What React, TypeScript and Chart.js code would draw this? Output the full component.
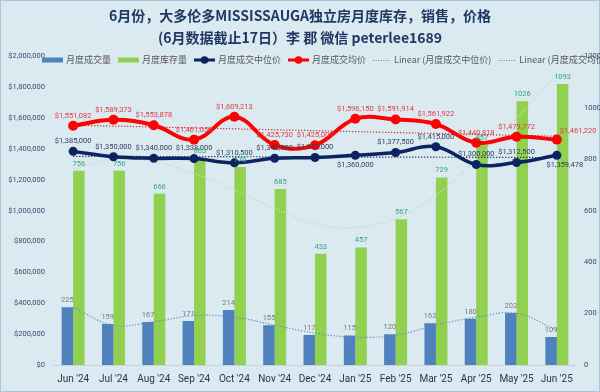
import React, { useEffect, useRef } from "react";
import { Chart, registerables } from "chart.js";

Chart.register(...registerables);

const categories = ["Jun '24", "Jul '24", "Aug '24", "Sep '24", "Oct '24", "Nov '24", "Dec '24", "Jan '25", "Feb '25", "Mar '25", "Apr '25", "May '25", "Jun '25"];
const salesVolume = [225, 159, 167, 171, 214, 155, 117, 115, 120, 162, 180, 202, 109];
const inventory = [756, 756, 666, 803, 770, 685, 433, 457, 567, 729, 857, 1026, 1093];
const medianPrice = [1385000, 1350000, 1340000, 1338000, 1310500, 1340000, 1345000, 1360000, 1377500, 1415000, 1300000, 1312500, 1359478];
const averagePrice = [1551082, 1589373, 1553878, 1461050, 1609213, 1425730, 1425000, 1596150, 1591914, 1561922, 1440818, 1479772, 1461220];
// trend lines
const medianTrendEnds = [1353000, 1345000];
const averageTrendEnds = [1555000, 1483000];
const salesTrend = [224, 155, 168, 192, 186, 155, 124, 108, 116, 155, 186, 201, 135];
const inventoryTrend = [760, 800, 790, 745, 680, 610, 550, 535, 570, 660, 800, 960, 1130];

const titleLines = ["6月份，大多伦多MISSISSAUGA独立房月度库存，销售，价格", "(6月数据截止17日）李 郡 微信 peterlee1689"];

const leftTicks = { min: 0, max: 2000000, step: 200000 };
const rightTicks = { min: 0, max: 1200, step: 200 };

const BG = "#dbe9f1";
const NAVY = "#0c2461";
const RED = "#ff0000";
const BLUE = "#4f81bd";
const GREEN = "#92d050";
const NUM_FONT = '"Roboto", "Liberation Sans", sans-serif';
const CJK_FONT = '"Noto Sans CJK SC", "Noto Sans", sans-serif';

const medianBelow = [7, 12];

const money = (v: number) => "$" + Math.round(v).toLocaleString("en-US");

const App = () => {
  const ref = useRef<HTMLCanvasElement>(null);

  useEffect(() => {
    const canvas = ref.current!;

    const bgPlugin = {
      id: "bg",
      beforeDraw(chart: any) {
        const { ctx, width, height } = chart;
        ctx.save();
        ctx.fillStyle = BG;
        ctx.fillRect(0, 0, width, height);
        ctx.strokeStyle = "#aec3d3";
        ctx.lineWidth = 1;
        ctx.strokeRect(0.5, 0.5, width - 1, height - 1);
        ctx.restore();
      },
    };

    const titlePlugin = {
      id: "titleDraw",
      afterDraw(chart: any) {
        const { ctx, width } = chart;
        ctx.save();
        ctx.fillStyle = "#1f3864";
        ctx.textAlign = "center";
        ctx.textBaseline = "middle";
        ctx.font = `bold 14px ${CJK_FONT}`;
        ctx.fillText(titleLines[0], width / 2, 16);
        ctx.fillText(titleLines[1], width / 2, 38);
        ctx.restore();
      },
    };

    const legendPlugin = {
      id: "legendDraw",
      afterDraw(chart: any) {
        const { ctx } = chart;
        const y = 60;
        let x = 42;
        ctx.save();
        ctx.font = `9px ${CJK_FONT}`;
        ctx.textBaseline = "middle";
        ctx.textAlign = "left";
        const items = [
          { kind: "rect", color: BLUE, text: "月度成交量" },
          { kind: "rect", color: GREEN, text: "月度库存量" },
          { kind: "line", color: NAVY, text: "月度成交中位价" },
          { kind: "line", color: RED, text: "月度成交均价" },
          { kind: "dot", color: "#6c7890", text: "Linear (月度成交中位价)" },
          { kind: "dot", color: "#6c7890", text: "Linear (月度成交均价)" },
        ];
        for (const it of items) {
          const sw = it.kind === "dot" ? 18 : 21;
          if (it.kind === "rect") {
            ctx.fillStyle = it.color;
            ctx.fillRect(x, y - 2.5, sw, 5);
          } else if (it.kind === "line") {
            ctx.strokeStyle = it.color;
            ctx.lineWidth = 3;
            ctx.beginPath();
            ctx.moveTo(x, y);
            ctx.lineTo(x + sw, y);
            ctx.stroke();
            ctx.fillStyle = it.color;
            ctx.beginPath();
            ctx.arc(x + sw / 2, y, 3.8, 0, Math.PI * 2);
            ctx.fill();
          } else {
            ctx.strokeStyle = it.color;
            ctx.lineWidth = 1;
            ctx.setLineDash([1, 1.6]);
            ctx.beginPath();
            ctx.moveTo(x, y + 0.5);
            ctx.lineTo(x + sw, y + 0.5);
            ctx.stroke();
            ctx.setLineDash([]);
          }
          x += sw + 3;
          ctx.fillStyle = "#595959";
          ctx.fillText(it.text, x, y);
          x += ctx.measureText(it.text).width + 7;
        }
        ctx.restore();
      },
    };

    const labelPlugin = {
      id: "valueLabels",
      afterDatasetsDraw(chart: any) {
        const { ctx } = chart;
        ctx.save();
        ctx.font = `7.5px ${NUM_FONT}`;
        ctx.textBaseline = "middle";
        chart.data.datasets.forEach((ds: any, di: number) => {
          const meta = chart.getDatasetMeta(di);
          const kind = ds.labelKind;
          if (!kind) return;
          meta.data.forEach((el: any, i: number) => {
            const v = ds.data[i];
            let tx = el.x;
            let ty = el.y;
            ctx.textAlign = "center";
            let text = "";
            if (kind === "sales") {
              ctx.fillStyle = "#7a7a7a";
              text = String(v);
              ty = el.y - 7;
            } else if (kind === "inv") {
              ctx.fillStyle = "#2fa878";
              text = String(v);
              ty = el.y - 7;
            } else if (kind === "median") {
              ctx.fillStyle = "#2e3d62";
              text = money(v);
              if (medianBelow.includes(i)) {
                ty = el.y + 10;
                if (i === 12) tx = el.x + 8;
              } else ty = el.y - 10;
            } else if (kind === "avg") {
              ctx.fillStyle = "#e23b3b";
              text = money(v);
              if (i === 12) {
                ctx.textAlign = "left";
                tx = el.x + 3;
                ty = el.y - 8;
              } else ty = el.y - 10;
            }
            ctx.fillText(text, tx, ty);
          });
        });
        ctx.restore();
      },
    };

    const chart = new Chart(canvas, {
      type: "bar",
      data: {
        labels: categories,
        datasets: [
          {
            type: "line",
            label: "月度成交均价",
            data: averagePrice,
            yAxisID: "y",
            borderColor: RED,
            backgroundColor: RED,
            borderWidth: 4,
            pointRadius: 5,
            pointBorderWidth: 0,
            tension: 0.4,
            order: 0,
            labelKind: "avg",
          } as any,
          {
            type: "line",
            label: "月度成交中位价",
            data: medianPrice,
            yAxisID: "y",
            borderColor: NAVY,
            backgroundColor: NAVY,
            borderWidth: 3.5,
            pointRadius: 4.5,
            pointBorderWidth: 0,
            tension: 0.4,
            order: 1,
            labelKind: "median",
          } as any,
          {
            type: "line",
            label: "Linear (月度成交中位价)",
            data: [
              { x: categories[0], y: medianTrendEnds[0] },
              { x: categories[categories.length - 1], y: medianTrendEnds[1] },
            ],
            yAxisID: "y",
            borderColor: NAVY,
            borderWidth: 1.2,
            borderDash: [1.2, 1.8],
            pointRadius: 0,
            order: 2,
          } as any,
          {
            type: "line",
            label: "Linear (月度成交均价)",
            data: [
              { x: categories[0], y: averageTrendEnds[0] },
              { x: categories[categories.length - 1], y: averageTrendEnds[1] },
            ],
            yAxisID: "y",
            borderColor: "#d42020",
            borderWidth: 1.2,
            borderDash: [1.2, 1.8],
            pointRadius: 0,
            order: 2,
          } as any,
          {
            type: "line",
            label: "sales trend",
            data: salesTrend,
            yAxisID: "y1",
            borderColor: "#5d8cc4",
            borderWidth: 1.2,
            borderDash: [1.2, 1.8],
            pointRadius: 0,
            tension: 0.4,
            order: 3,
          } as any,
          {
            type: "line",
            label: "inventory trend",
            data: inventoryTrend,
            yAxisID: "y1",
            borderColor: "#c2deb0",
            borderWidth: 1.4,
            borderDash: [1.2, 1.8],
            pointRadius: 0,
            tension: 0.4,
            order: 3,
          } as any,
          {
            type: "bar",
            label: "月度成交量",
            data: salesVolume,
            yAxisID: "y1",
            backgroundColor: BLUE,
            categoryPercentage: 0.57,
            barPercentage: 1,
            order: 5,
            labelKind: "sales",
          } as any,
          {
            type: "bar",
            label: "月度库存量",
            data: inventory,
            yAxisID: "y1",
            backgroundColor: GREEN,
            categoryPercentage: 0.57,
            barPercentage: 1,
            order: 5,
            labelKind: "inv",
          } as any,
        ],
      },
      options: {
        animation: false,
        responsive: false,
        devicePixelRatio: 1,
        layout: { padding: { top: 56.5, bottom: 0, left: 0, right: 0 } },
        plugins: {
          legend: { display: false },
          title: { display: false },
          tooltip: { enabled: false },
        },
        scales: {
          x: {
            grid: { display: false, drawTicks: false },
            border: { display: true, color: "#c9d3dc" },
            ticks: {
              color: "#1f3350",
              font: { size: 10, family: NUM_FONT },
              padding: 8,
              maxRotation: 0,
              autoSkip: false,
            },
            afterFit(scale: any) {
              scale.height = 27;
            },
          },
          y: {
            position: "left",
            min: leftTicks.min,
            max: leftTicks.max,
            grid: { display: false, drawTicks: false },
            border: { display: false },
            ticks: {
              stepSize: leftTicks.step,
              color: "#3b4a6b",
              font: { size: 7.5, family: NUM_FONT },
              padding: 8,
              callback: (v: any) => money(Number(v)),
            },
            afterFit(scale: any) {
              scale.width = 53;
            },
          },
          y1: {
            position: "right",
            min: rightTicks.min,
            max: rightTicks.max,
            grid: { display: false, drawTicks: false },
            border: { display: false },
            ticks: {
              stepSize: rightTicks.step,
              color: "#3b4a6b",
              font: { size: 7.5, family: NUM_FONT },
              padding: 7,
              callback: (v: any) => String(v),
            },
            afterFit(scale: any) {
              scale.width = 23;
            },
          },
        },
      } as any,
      plugins: [bgPlugin, labelPlugin, titlePlugin, legendPlugin],
    });
    return () => chart.destroy();
  }, []);

  return (
    <div style={{ position: "fixed", left: 0, top: 0, width: 600, height: 392 }}>
      <canvas ref={ref} width={600} height={392} style={{ display: "block", width: 600, height: 392 }} />
    </div>
  );
};

export default App;
